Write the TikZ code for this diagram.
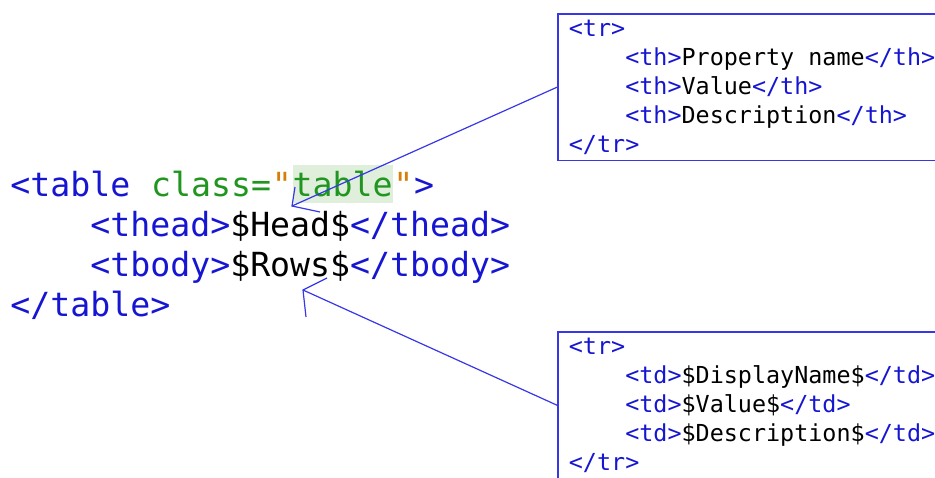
\documentclass[tikz,border=0pt]{standalone}
\usepackage{fontspec}
\setmonofont{DejaVu Sans Mono}
\usepackage{tikz}
\usetikzlibrary{positioning,calc}
\definecolor{tagblue}{RGB}{22, 22, 210}
\definecolor{boxblue}{RGB}{55, 55, 232}
\definecolor{attrgreen}{RGB}{32, 150, 32}
\definecolor{quoteorange}{RGB}{215, 125, 10}
\definecolor{hlgreen}{RGB}{224, 238, 220}
\newcommand{\tg}[1]{\textcolor{tagblue}{#1}}
\newcommand{\ind}{\hphantom{0000}}
\newcommand{\fixedspace}{\spaceskip 0.602em\relax}

\begin{document}
\begin{tikzpicture}[x=0.5pt, y=-0.5pt,
        code/.style={font=\ttfamily\fontsize{16.6pt}{20pt}\selectfont, inner sep=0pt, anchor=base west},
        snippet/.style={draw=boxblue, line width=0.9pt, font=\ttfamily\fontsize{11.7pt}{14.5pt}\selectfont,
            text width=210pt, align=left, execute at begin node=\fixedspace,
            inner xsep=5.5pt, inner ysep=3pt, anchor=north west},
        pointer/.style={draw=boxblue, line width=0.6pt}]
        \path[use as bounding box, clip] (0,0) rectangle (935,477);

        % Template
        \node[code, text=tagblue] (tblopen) at (10,196) {<table};
        \node[code, text=attrgreen] (tblclass) at (tblopen.base east) {\ class=};
        \node[code, text=quoteorange] (quoteL) at (tblclass.base east) {"};
        \node[code, text=attrgreen, fill=hlgreen, text height=15.5pt, text depth=3.5pt] (tblval) at (quoteL.base east) {table};
        \node[code, text=quoteorange] (quoteR) at (tblval.base east) {"};
        \node[code, text=tagblue] (tblclose) at (quoteR.base east) {>};
        \node[code, text=tagblue] (thead) at (10,236) {\ind<thead>\textcolor{black}{\$Head\$}</thead>};
        \node[code, text=tagblue] (tbody) at (10,276) {\ind<tbody>\textcolor{black}{\$Rows\$}</tbody>};
        \node[code, text=tagblue] (tblend) at (10,316) {</table>};

        % Row snippets
        \node[snippet] (headrow) at (557,13) {\tg{<tr>}\\
            \ind\tg{<th>}Property name\tg{</th>}\\
            \ind\tg{<th>}Value\tg{</th>}\\
            \ind\tg{<th>}Description\tg{</th>}\\
            \tg{</tr>}};
        \node[snippet] (bodyrow) at (557,331) {\tg{<tr>}\\
            \ind\tg{<td>}\$DisplayName\$\tg{</td>}\\
            \ind\tg{<td>}\$Value\$\tg{</td>}\\
            \ind\tg{<td>}\$Description\$\tg{</td>}\\
            \tg{</tr>}};

        % Pointers
        \coordinate (headtip) at (292,206);
        \coordinate (headbarbA) at (295,187);
        \coordinate (headbarbB) at (320,212);
        \draw[pointer] (headrow.west) -- (headtip);
        \draw[pointer] (headbarbA) -- (headtip) -- (headbarbB);

        \coordinate (rowstip) at (303,290);
        \coordinate (rowsbarbA) at (327,278);
        \coordinate (rowsbarbB) at (306,317);
        \draw[pointer] (bodyrow.west) -- (rowstip);
        \draw[pointer] (rowsbarbA) -- (rowstip) -- (rowsbarbB);
\end{tikzpicture}
\end{document}
